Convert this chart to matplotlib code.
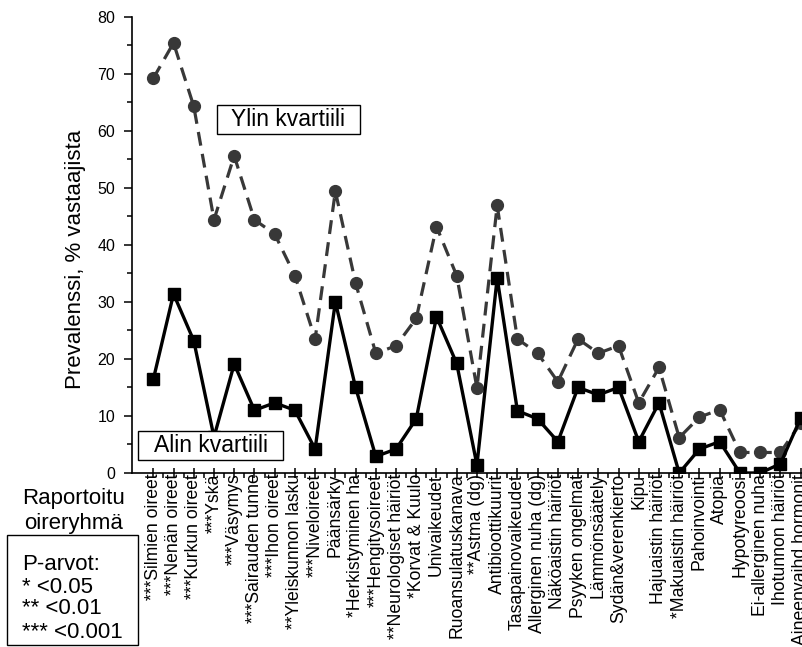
import numpy as np
import matplotlib
matplotlib.use('Agg')
import matplotlib.pyplot as plt
from matplotlib.patches import Rectangle
from matplotlib.ticker import MultipleLocator

plt.rcParams['font.family'] = ['Liberation Sans', 'DejaVu Sans']
plt.rcParams['lines.scale_dashes'] = False

oireet = ['***Silmien oireet', '***Nenän oireet', '***Kurkun oireet', '***Yskä',
          '***Väsymys', '***Sairauden tunne', '***Ihon oireet', '**Yleiskunnon lasku',
          '***Niveloireet', 'Päänsärky', '*Herkistyminen ha', '***Hengitysoireet',
          '**Neurologiset häiriöt', '*Korvat & Kuulo', 'Univaikeudet',
          'Ruoansulatuskanava', '**Astma (dg)', 'Antibioottikuurit',
          'Tasapainovaikeudet', 'Allerginen nuha (dg)', 'Näköaistin häiriöt',
          'Psyyken ongelmat', 'Lämmönsäätely', 'Sydän&verenkierto', 'Kipu',
          'Hajuaistin häiriöt', '*Makuaistin häiriöt', 'Pahoinvointi', 'Atopia',
          'Hypotyreoosi', 'Ei-allerginen nuha', 'Ihotunnon häiriöt',
          'Aineenvaihd hormonit']

ylin = [69.2, 75.4, 64.3, 44.4, 55.6, 44.4, 41.9, 34.6, 23.5, 49.4,
        33.3, 21.0, 22.3, 27.1, 43.2, 34.6, 14.9, 46.9, 23.5, 21.0,
        16.0, 23.5, 21.0, 22.3, 12.3, 18.5, 6.2, 9.8, 11.1, 3.6,
        3.6, 3.6, 8.7]
alin = [16.4, 31.4, 23.2, 6.3, 19.1, 11.0, 12.3, 11.0, 4.2, 30.0,
        15.0, 2.9, 4.2, 9.5, 27.4, 19.2, 1.4, 34.2, 10.9, 9.5,
        5.5, 15.0, 13.7, 15.0, 5.5, 12.3, 0.0, 4.2, 5.5, 0.0,
        0.0, 1.6, 9.6]

W, H = 802, 647
fig = plt.figure(figsize=(W / 100, H / 100), dpi=100)
ax = fig.add_axes([132 / W, (H - 473) / H, (W - 132) / W, (473 - 16.7) / H])

x = np.arange(len(oireet))
ax.plot(x, ylin, color='#383838', lw=2.3, dashes=(10, 6),
        marker='o', ms=8.5, mfc='#383838', mec='#383838')
ax.plot(x, alin, color='black', lw=2.4, ls='-',
        marker='s', ms=9, mfc='black', mec='black')

ax.set_xlim(-1.053, 32.07)
ax.set_ylim(0, 80)
ax.spines['top'].set_visible(False)
ax.spines['right'].set_visible(False)
ax.spines['left'].set_linewidth(1.2)
ax.spines['bottom'].set_linewidth(1.2)

ax.yaxis.set_major_locator(MultipleLocator(10))
ax.yaxis.set_minor_locator(MultipleLocator(5))
ax.tick_params(axis='y', which='major', direction='out', length=6, width=1.1,
               labelsize=11.5, pad=6)
ax.tick_params(axis='y', which='minor', direction='out', length=3.6, width=1.1)

ax.set_xticks(x)
ax.set_xticklabels(oireet, rotation=90, va='top', ha='center')
ax.set_xticks(x[:-1] + 0.5, minor=True)
ax.tick_params(axis='x', which='major', direction='inout', length=7, width=1.1,
               labelsize=12.7, pad=-3)
ax.tick_params(axis='x', which='minor', direction='out', length=3.5, width=1.1)

fig.text(75 / W, 1 - 259 / H, 'Prevalenssi, % vastaajista', rotation=90,
         ha='center', va='center', fontsize=16)

# tekstilaatikot
def laatikko(x0, y0, x1, y1):
    fig.patches.append(Rectangle((x0 / W, 1 - y1 / H), (x1 - x0) / W, (y1 - y0) / H,
                                 transform=fig.transFigure, fc='white', ec='black',
                                 lw=1.0, zorder=5))

laatikko(216.7, 105, 360, 134.3)
fig.text(288.3 / W, 1 - 119.7 / H, 'Ylin kvartiili', ha='center', va='center',
         fontsize=16.5, zorder=6)
laatikko(138.3, 430.7, 283.3, 459.7)
fig.text(210.8 / W, 1 - 445.2 / H, 'Alin kvartiili', ha='center', va='center',
         fontsize=16.5, zorder=6)

fig.text(73.5 / W, 1 - 504 / H, 'Raportoitu', ha='center', va='baseline', fontsize=16)
fig.text(73.5 / W, 1 - 529 / H, 'oireryhmä', ha='center', va='baseline', fontsize=16)

laatikko(7, 535, 138, 645)
for teksti, yb in zip(['P-arvot:', '* <0.05', '** <0.01', '*** <0.001'],
                      [570, 593, 614, 638]):
    fig.text(21.7 / W, 1 - yb / H, teksti, ha='left', va='baseline', fontsize=16,
             zorder=6)

fig.savefig('out.png', dpi=100)
